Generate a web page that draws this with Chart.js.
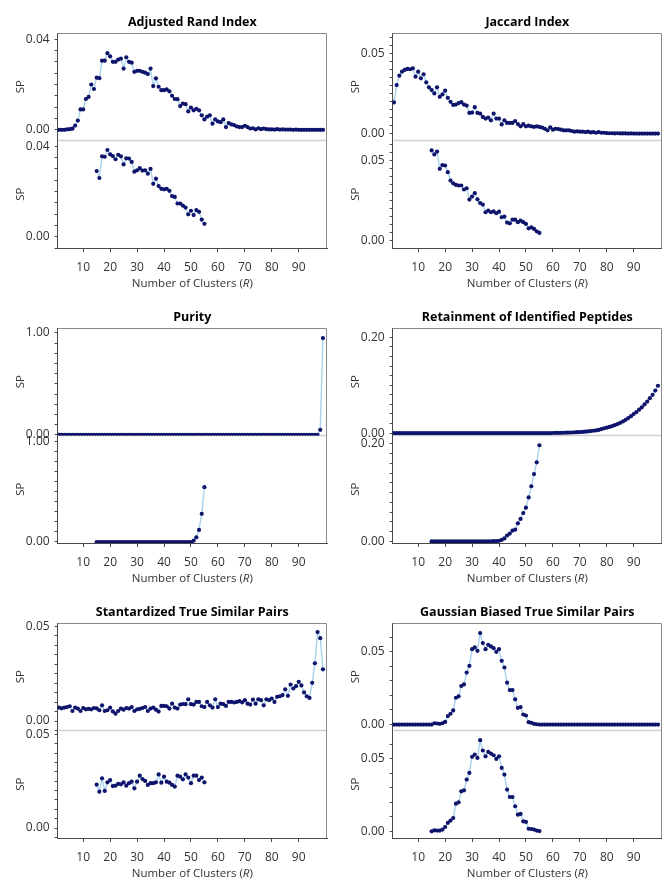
<!DOCTYPE html>
<html>
<head>
<meta charset="utf-8">
<script src="https://cdn.jsdelivr.net/npm/chart.js@4.4.1/dist/chart.umd.min.js"></script>
<style>
  html, body { margin: 0; padding: 0; background: #fff; overflow: hidden; }
  #wrap { position: relative; width: 662px; height: 880px; overflow: hidden; }
  .panel { position: absolute; width: 331px; height: 295px; }
</style>
</head>
<body>
<div id="wrap">
  <div class="panel" style="left:0;top:0"><canvas id="c0" width="331" height="295"></canvas></div>
  <div class="panel" style="left:335px;top:0"><canvas id="c1" width="331" height="295"></canvas></div>
  <div class="panel" style="left:0;top:295px"><canvas id="c2" width="331" height="295"></canvas></div>
  <div class="panel" style="left:335px;top:295px"><canvas id="c3" width="331" height="295"></canvas></div>
  <div class="panel" style="left:0;top:590px"><canvas id="c4" width="331" height="295"></canvas></div>
  <div class="panel" style="left:335px;top:590px"><canvas id="c5" width="331" height="295"></canvas></div>
</div>
<script>
// cluster counts: top plots run R = 1..99, bottom plots R = 15..55
const rTop = Array.from({ length: 99 }, (_, i) => i + 1);
const rBot = Array.from({ length: 41 }, (_, i) => i + 15);
const xTicks = [10, 20, 30, 40, 50, 60, 70, 80, 90];

const ariTop = [
  0.0000, 0.0000, 0.0000, 0.0002, 0.0003, 0.0005, 0.0019, 0.0041, 0.0090, 0.0090,
  0.0136, 0.0145, 0.0200, 0.0180, 0.0230, 0.0228, 0.0305, 0.0305, 0.0338, 0.0324,
  0.0300, 0.0300, 0.0310, 0.0314, 0.0270, 0.0320, 0.0300, 0.0296, 0.0256, 0.0260,
  0.0260, 0.0256, 0.0252, 0.0246, 0.0270, 0.0193, 0.0227, 0.0190, 0.0175, 0.0175,
  0.0178, 0.0170, 0.0150, 0.0136, 0.0135, 0.0105, 0.0116, 0.0113, 0.0081, 0.0098,
  0.0086, 0.0093, 0.0086, 0.0064, 0.0046, 0.0058, 0.0064, 0.0027, 0.0046, 0.0037,
  0.0034, 0.0046, 0.0012, 0.0030, 0.0024, 0.0021, 0.0015, 0.0012, 0.0012, 0.0018,
  0.0012, 0.0006, 0.0007, 0.0002, 0.0007, 0.0003, 0.0006, 0.0003, 0.0002, 0.0002,
  0.0001, 0.0003, 0.0001, 0.0002, 0.0001, 0.0001, 0.0001, 0.0000, 0.0001, 0.0000,
  0.0000, 0.0000, 0.0000, 0.0000, 0.0000, 0.0000, 0.0000, 0.0000, 0.0000
];
const ariBot = [
  0.0291, 0.0260, 0.0356, 0.0354, 0.0384, 0.0365, 0.0357, 0.0343, 0.0363, 0.0356,
  0.0320, 0.0347, 0.0346, 0.0331, 0.0288, 0.0294, 0.0304, 0.0293, 0.0294, 0.0279,
  0.0300, 0.0234, 0.0257, 0.0224, 0.0212, 0.0210, 0.0212, 0.0203, 0.0180, 0.0176,
  0.0147, 0.0147, 0.0138, 0.0129, 0.0099, 0.0115, 0.0096, 0.0118, 0.0110, 0.0076,
  0.0057
];

const jacTop = [
  0.0194, 0.0302, 0.0360, 0.0385, 0.0396, 0.0402, 0.0400, 0.0406, 0.0354, 0.0385,
  0.0344, 0.0369, 0.0319, 0.0288, 0.0271, 0.0250, 0.0288, 0.0229, 0.0244, 0.0267,
  0.0223, 0.0198, 0.0179, 0.0181, 0.0190, 0.0196, 0.0181, 0.0175, 0.0129, 0.0131,
  0.0165, 0.0129, 0.0125, 0.0104, 0.0094, 0.0100, 0.0083, 0.0125, 0.0094, 0.0094,
  0.0058, 0.0083, 0.0067, 0.0067, 0.0067, 0.0079, 0.0060, 0.0046, 0.0060, 0.0046,
  0.0050, 0.0046, 0.0042, 0.0046, 0.0042, 0.0038, 0.0031, 0.0021, 0.0040, 0.0025,
  0.0031, 0.0029, 0.0025, 0.0021, 0.0021, 0.0021, 0.0017, 0.0013, 0.0015, 0.0013,
  0.0013, 0.0010, 0.0013, 0.0008, 0.0010, 0.0006, 0.0010, 0.0006, 0.0006, 0.0004,
  0.0003, 0.0003, 0.0002, 0.0003, 0.0002, 0.0002, 0.0002, 0.0001, 0.0002, 0.0001,
  0.0001, 0.0001, 0.0001, 0.0001, 0.0001, 0.0001, 0.0001, 0.0001, 0.0001
];
const jacBot = [
  0.0563, 0.0538, 0.0556, 0.0448, 0.0471, 0.0469, 0.0427, 0.0375, 0.0358, 0.0348,
  0.0344, 0.0344, 0.0319, 0.0327, 0.0256, 0.0275, 0.0296, 0.0258, 0.0235, 0.0225,
  0.0177, 0.0188, 0.0177, 0.0183, 0.0171, 0.0181, 0.0146, 0.0150, 0.0113, 0.0108,
  0.0131, 0.0131, 0.0115, 0.0125, 0.0115, 0.0104, 0.0077, 0.0083, 0.0073, 0.0058,
  0.0048
];

const purTop = [
  0, 0, 0, 0, 0, 0, 0, 0, 0, 0,
  0, 0, 0, 0, 0, 0, 0, 0, 0, 0,
  0, 0, 0, 0, 0, 0, 0, 0, 0, 0,
  0, 0, 0, 0, 0, 0, 0, 0, 0, 0,
  0, 0, 0, 0, 0, 0, 0, 0, 0, 0,
  0, 0, 0, 0, 0, 0, 0, 0, 0, 0,
  0, 0, 0, 0, 0, 0, 0, 0, 0, 0,
  0, 0, 0, 0, 0, 0, 0, 0, 0, 0,
  0, 0, 0, 0, 0, 0, 0, 0, 0, 0,
  0, 0, 0, 0, 0, 0, 0, 0.049, 0.950
];
const purBot = [
  0, 0, 0, 0, 0, 0, 0, 0, 0, 0,
  0, 0, 0, 0, 0, 0, 0, 0, 0, 0,
  0, 0, 0, 0, 0, 0, 0, 0, 0, 0,
  0, 0, 0, 0, 0, 0, 0.013, 0.046, 0.120, 0.280,
  0.546
];

const retTop = [
  0, 0, 0, 0, 0, 0, 0, 0, 0, 0,
  0, 0, 0, 0, 0, 0, 0, 0, 0, 0,
  0, 0, 0, 0, 0, 0, 0, 0, 0, 0,
  0, 0, 0, 0, 0, 0, 0, 0, 0, 0,
  0, 0, 0, 0, 0, 0, 0, 0, 0, 0,
  0, 0, 0, 0, 0, 0, 0, 0, 0, 0.0003,
  0.0004, 0.0005, 0.0006, 0.0008, 0.0010, 0.0012, 0.0014, 0.0017, 0.0020, 0.0022,
  0.0026, 0.0030, 0.0036, 0.0043, 0.0050, 0.0058, 0.0067, 0.0085, 0.0100, 0.0115,
  0.0130, 0.0148, 0.0168, 0.0190, 0.0215, 0.0245, 0.0278, 0.0315, 0.0355, 0.0400,
  0.0440, 0.0490, 0.0540, 0.0600, 0.0660, 0.0730, 0.0800, 0.0890, 0.0990
];
const retBot = [
  0, 0, 0, 0, 0, 0, 0, 0, 0, 0,
  0, 0, 0, 0, 0, 0, 0, 0, 0, 0,
  0.0001, 0.0001, 0.0002, 0.0003, 0.0006, 0.0010, 0.0030, 0.0060, 0.0120, 0.0160,
  0.0220, 0.0240, 0.0370, 0.0460, 0.0580, 0.0690, 0.0900, 0.1130, 0.1380, 0.1620,
  0.1970
];

const stdTop = [
  0.0071, 0.0067, 0.0071, 0.0074, 0.0078, 0.0053, 0.0071, 0.0066, 0.0053, 0.0069,
  0.0062, 0.0064, 0.0062, 0.0069, 0.0067, 0.0057, 0.0083, 0.0053, 0.0057, 0.0071,
  0.0051, 0.0039, 0.0053, 0.0066, 0.0060, 0.0069, 0.0066, 0.0074, 0.0053, 0.0062,
  0.0064, 0.0069, 0.0074, 0.0053, 0.0066, 0.0071, 0.0060, 0.0050, 0.0080, 0.0080,
  0.0078, 0.0066, 0.0092, 0.0071, 0.0066, 0.0087, 0.0090, 0.0089, 0.0115, 0.0089,
  0.0087, 0.0101, 0.0101, 0.0078, 0.0074, 0.0101, 0.0083, 0.0071, 0.0115, 0.0074,
  0.0092, 0.0089, 0.0080, 0.0101, 0.0101, 0.0098, 0.0101, 0.0105, 0.0099, 0.0110,
  0.0092, 0.0087, 0.0113, 0.0092, 0.0115, 0.0110, 0.0083, 0.0115, 0.0110, 0.0119,
  0.0101, 0.0128, 0.0131, 0.0137, 0.0168, 0.0133, 0.0193, 0.0172, 0.0184, 0.0207,
  0.0188, 0.0151, 0.0131, 0.0122, 0.0202, 0.0305, 0.0470, 0.0438, 0.0273
];
const stdBot = [
  0.0231, 0.0194, 0.0265, 0.0198, 0.0244, 0.0256, 0.0224, 0.0226, 0.0235, 0.0233,
  0.0244, 0.0226, 0.0239, 0.0247, 0.0212, 0.0247, 0.0279, 0.0261, 0.0251, 0.0230,
  0.0239, 0.0239, 0.0244, 0.0286, 0.0242, 0.0274, 0.0247, 0.0242, 0.0230, 0.0221,
  0.0279, 0.0274, 0.0260, 0.0286, 0.0269, 0.0239, 0.0279, 0.0279, 0.0256, 0.0269,
  0.0244
];

const gauTop = [
  0, 0, 0, 0, 0, 0, 0, 0, 0, 0,
  0, 0, 0, 0, 0, 0.0009, 0.0007, 0.0005, 0.0009, 0.0018,
  0.0058, 0.0074, 0.0097, 0.0184, 0.0194, 0.0265, 0.0276, 0.0357, 0.0403, 0.0518,
  0.0530, 0.0507, 0.0629, 0.0560, 0.0518, 0.0548, 0.0537, 0.0525, 0.0500, 0.0518,
  0.0438, 0.0392, 0.0288, 0.0237, 0.0237, 0.0173, 0.0115, 0.0120, 0.0069, 0.0062,
  0.0016, 0.0012, 0.0005, 0.0002, 0, 0, 0, 0, 0, 0,
  0, 0, 0, 0, 0, 0, 0, 0, 0, 0,
  0, 0, 0, 0, 0, 0, 0, 0, 0, 0,
  0, 0, 0, 0, 0, 0, 0, 0, 0, 0,
  0, 0, 0, 0, 0, 0, 0, 0, 0
];
const gauBot = [
  0.0000, 0.0007, 0.0005, 0.0005, 0.0012, 0.0030, 0.0058, 0.0074, 0.0092, 0.0191,
  0.0200, 0.0276, 0.0283, 0.0357, 0.0403, 0.0514, 0.0530, 0.0507, 0.0629, 0.0558,
  0.0518, 0.0548, 0.0537, 0.0525, 0.0500, 0.0518, 0.0438, 0.0392, 0.0288, 0.0237,
  0.0237, 0.0173, 0.0115, 0.0120, 0.0069, 0.0065, 0.0018, 0.0016, 0.0012, 0.0005,
  0.0002
];

const FONT = "'Open Sans', 'Noto Sans', sans-serif";
Chart.defaults.font.family = FONT;
Chart.defaults.font.size = 11.5;
Chart.defaults.color = '#333';

const LINE = '#a9d3ec';
const DOT = '#0e136b';
const AXIS = '#4a4a4a';

function tickValues(min, max, step) {
  const out = [];
  for (let k = Math.ceil(min / step - 1e-9); k * step <= max + 1e-9; k++) {
    out.push(+(k * step).toFixed(6));
  }
  return out;
}

// frame, divider between the two sub plots, title and x title
const panelDecor = {
  id: 'panelDecor',
  beforeDatasetsDraw(chart) {
    const { ctx, chartArea: a, scales } = chart;
    ctx.save();
    ctx.strokeStyle = '#8a8a8a';
    ctx.lineWidth = 1;
    ctx.beginPath();
    ctx.moveTo(a.left, a.top + 0.5);
    ctx.lineTo(a.right - 0.5, a.top + 0.5);
    ctx.lineTo(a.right - 0.5, a.bottom);
    ctx.stroke();
    const yd = scales.yTop.bottom;
    ctx.strokeStyle = '#cfcfcf';
    ctx.lineWidth = 1.5;
    ctx.beginPath();
    ctx.moveTo(a.left + 1, yd);
    ctx.lineTo(a.right - 1, yd);
    ctx.stroke();
    ctx.restore();
  },
  afterDraw(chart, args, opts) {
    const { ctx, chartArea: a } = chart;
    const cx = (a.left + a.right) / 2;
    ctx.save();
    ctx.textBaseline = 'middle';
    ctx.fillStyle = '#000';
    ctx.textAlign = 'center';
    ctx.font = 'bold 12.5px ' + FONT;
    ctx.fillText(opts.title, cx, 22);

    const parts = [['Number of Clusters (', 'normal'], ['R', 'italic'], [')', 'normal']];
    ctx.fillStyle = '#333';
    ctx.textAlign = 'left';
    let total = 0;
    const widths = parts.map(([t, st]) => {
      ctx.font = st + ' 11.5px ' + FONT;
      const w = ctx.measureText(t).width;
      total += w;
      return w;
    });
    let x = cx - total / 2;
    parts.forEach(([t, st], i) => {
      ctx.font = st + ' 11.5px ' + FONT;
      ctx.fillText(t, x, 284);
      x += widths[i];
    });
    ctx.restore();
  }
};

function yScale(range, minor, major) {
  const [min, max] = range;
  return {
    type: 'linear',
    position: 'left',
    stack: 'sp',
    stackWeight: 1,
    min, max,
    afterBuildTicks: s => { s.ticks = tickValues(min, max, minor).map(v => ({ value: v })); },
    afterFit: s => { s.width = 57.6; },
    ticks: {
      autoSkip: false,
      padding: 5,
      font: { size: 12 },
      callback: v => Math.abs(v / major - Math.round(v / major)) < 1e-6 ? v.toFixed(2) : ''
    },
    grid: { drawOnChartArea: false, drawTicks: true, tickLength: 3, color: AXIS },
    border: { color: AXIS },
    title: { display: true, text: 'SP', color: '#333', padding: { top: 14, bottom: 0 }, font: { size: 11.5 } }
  };
}

function series(xs, ys, axis) {
  return {
    data: xs.map((r, i) => ({ x: r, y: ys[i] })),
    yAxisID: axis,
    borderColor: LINE,
    borderWidth: 1.4,
    pointRadius: 2.1,
    pointBackgroundColor: DOT,
    pointBorderWidth: 0,
    tension: 0
  };
}

function makePanel(id, title, top, bot, topRange, botRange, minor, major) {
  new Chart(document.getElementById(id), {
    type: 'line',
    data: { datasets: [series(rTop, top, 'yTop'), series(rBot, bot, 'yBot')] },
    options: {
      responsive: false,
      animation: false,
      events: [],
      layout: { padding: { top: 33, left: 0, right: 2.5, bottom: 0 } },
      plugins: { legend: { display: false }, tooltip: { enabled: false }, panelDecor: { title } },
      scales: {
        x: {
          type: 'linear',
          min: 0.5, max: 100.5,
          afterBuildTicks: s => { s.ticks = xTicks.map(v => ({ value: v })); },
          afterFit: s => { s.height = 47; },
          ticks: { autoSkip: false, maxRotation: 0, padding: 8, font: { size: 12 }, callback: v => String(v) },
          grid: { drawOnChartArea: false, tickLength: 4, color: AXIS },
          border: { color: AXIS }
        },
        yBot: yScale(botRange, minor, major),
        yTop: yScale(topRange, minor, major)
      }
    },
    plugins: [panelDecor]
  });
}

makePanel('c0', 'Adjusted Rand Index', ariTop, ariBot, [-0.0047, 0.0427], [-0.005, 0.0426], 0.005, 0.04);
makePanel('c1', 'Jaccard Index', jacTop, jacBot, [-0.0042, 0.0625], [-0.0046, 0.0625], 0.005, 0.05);
makePanel('c2', 'Purity', purTop, purBot, [-0.007, 1.049], [-0.01, 1.06], 0.1, 1);
makePanel('c3', 'Retainment of Identified Peptides', retTop, retBot, [-0.0049, 0.2196], [-0.0034, 0.217], 0.02, 0.2);
makePanel('c4', 'Stantardized True Similar Pairs', stdTop, stdBot, [-0.005, 0.0518], [-0.0053, 0.052], 0.005, 0.05);
makePanel('c5', 'Gaussian Biased True Similar Pairs', gauTop, gauBot, [-0.0041, 0.0698], [-0.0046, 0.0696], 0.01, 0.05);
</script>
</body>
</html>
